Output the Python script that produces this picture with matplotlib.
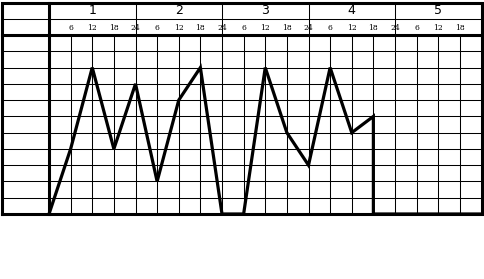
import matplotlib
matplotlib.use("Agg")
import matplotlib.pyplot as plt

# chart data
days = ["1", "2", "3", "4", "5"]
hour_ticks = list(range(6, 120, 6))
hour_labels = ["6", "12", "18", "24"] * 4 + ["6", "12", "18"]
hours = [0, 6, 12, 18, 24, 30, 36, 42, 48, 54, 60, 66, 72, 78, 84, 90, 90, 120]
values = [0, 4, 9, 4, 8, 2, 7, 9, 0, 0, 9, 5, 3, 9, 5, 6, 0, 0]

W, H = 484, 279
fig = plt.figure(figsize=(W / 100, H / 100), dpi=100)
fig.patch.set_facecolor("white")

# box in pixels: left 1.5, right 481.5, top 2.5, bottom 214
left_px, right_px, top_px, bot_px = 1.5, 481.5, 2.5, 214.0
ax = fig.add_axes([left_px / W, (H - bot_px) / H,
                   (right_px - left_px) / W, (bot_px - top_px) / H])
x0 = -13.18
ax.set_xlim(x0, 120)
ax.set_ylim(0, 13)
ax.axis("off")

thin = 0.75
thick = 2.2
kw = dict(color="black", clip_on=False, solid_capstyle="projecting")

# horizontal rules
for y in range(1, 11):
    ax.plot([x0, 120], [y, y], lw=thin, **kw)
ax.plot([x0, 120], [12, 12], lw=thin, **kw)
ax.plot([x0, 120], [11, 11], lw=thick, **kw)

# vertical rules in plot area
for h in hour_ticks:
    ax.plot([h, h], [0, 11], lw=thin, **kw)
# day separators in header
for d in range(1, len(days)):
    ax.plot([d * 24, d * 24], [11, 13], lw=thin, **kw)
ax.plot([0, 0], [0, 13], lw=thick, **kw)

# outer frame
ax.plot([x0, 120, 120, x0, x0], [0, 0, 13, 13, 0], lw=thick, color="black",
        clip_on=False, solid_joinstyle="miter")

# header text
for i, d in enumerate(days):
    ax.text(i * 24 + 12, 12.5, d, ha="center", va="center",
            fontsize=9, family="DejaVu Sans")
for h, lab in zip(hour_ticks, hour_labels):
    ax.text(h, 11.45, lab, ha="center", va="center",
            fontsize=5.5, family="DejaVu Serif")

# data line
ax.plot(hours, values, color="black", lw=2.3, clip_on=False,
        solid_joinstyle="miter", zorder=5)

fig.savefig("out.png", dpi=100)
